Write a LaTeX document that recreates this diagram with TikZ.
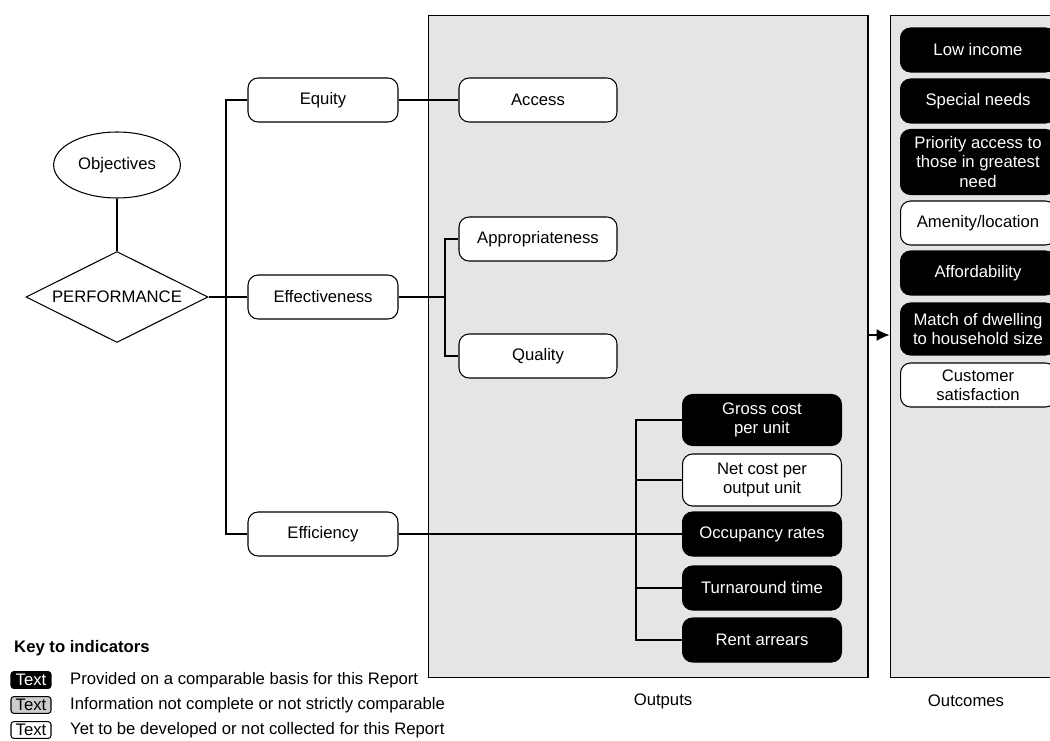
\documentclass[tikz,border=0pt]{standalone}
\usepackage{fontspec}
\setmainfont{Liberation Sans}
\usepackage{tikz}
\usetikzlibrary{arrows,arrows.meta,shapes,calc}
\tikzstyle{ind}=[draw, fill=white, rounded corners=2mm, minimum width=3cm,% indicator box
minimum height=0.88cm, align=center, line width=0.6pt, inner sep=1pt]
\tikzstyle{indblk}=[ind, fill=black, text=white]
\tikzstyle{outc}=[ind, minimum width=3.1cm]
\tikzstyle{outcblk}=[outc, fill=black, text=white]
\tikzstyle{panel}=[draw, fill=gray!20, line width=0.6pt]
\tikzstyle{link}=[line width=0.6pt]
\tikzstyle{keybox}=[draw, rounded corners=0.6mm, inner sep=1.5pt, minimum width=0.8cm, line width=0.6pt]

\begin{document}
\begin{tikzpicture}[x=0.02cm,y=-0.02cm,font=\fontsize{9.5}{11}\selectfont]
\useasboundingbox (0,0) rectangle (1050,740);
\clip (0,0) rectangle (1050,740);
% panels
\node[panel, minimum width=8.8cm, minimum height=13.26cm] (outputs) at (648,346.5) {};
\node[panel, minimum width=4.2cm, minimum height=13.26cm] (outcomes) at (995,346.5) {};
\node (outlab) at (663,701) {Outputs};
\node (outclab) at (966,701) {Outcomes};
% objectives
\node[ellipse, draw, fill=white, line width=0.6pt, minimum width=2.48cm, minimum height=1.32cm] (obj) at (117,165) {Objectives};
\node[diamond, draw, fill=white, aspect=2, inner sep=0pt, line width=0.6pt, minimum width=3.64cm, minimum height=1.82cm] (perf) at (117,297) {PERFORMANCE};
\node[ind] (equity) at (323,100) {Equity};
\node[ind] (effect) at (323,297) {Effectiveness};
\node[ind] (effic) at (323,534) {Efficiency};
% outputs
\node[ind, minimum width=3.16cm] (access) at (538,100) {Access};
\node[ind, minimum width=3.16cm] (approp) at (538,239) {Appropriateness};
\node[ind, minimum width=3.16cm] (quality) at (538,356) {Quality};
\node[indblk, minimum width=3.18cm, minimum height=1.02cm] (gross) at (762,420) {Gross cost\\per unit};
\node[ind, minimum width=3.18cm, minimum height=1.04cm] (net) at (762,480) {Net cost per\\output unit};
\node[indblk, minimum width=3.18cm] (occup) at (762,534) {Occupancy rates};
\node[indblk, minimum width=3.18cm] (turn) at (762,588) {Turnaround time};
\node[indblk, minimum width=3.18cm] (rent) at (762,640) {Rent arrears};
% outcomes
\node[outcblk] (lowinc) at (978,50) {Low income};
\node[outcblk] (special) at (978,101) {Special needs};
\node[outcblk, minimum height=1.3cm] (priority) at (978,162) {Priority access to\\those in greatest\\need};
\node[outc] (amenity) at (978,223) {Amenity/location};
\node[outcblk] (afford) at (978,273) {Affordability};
\node[outcblk, minimum height=1.04cm] (match) at (978,329) {Match of dwelling\\to household size};
\node[outc] (custom) at (978,385) {Customer\\satisfaction};
% links
\coordinate (trunk) at (226,297);
\coordinate (fork) at (445,297);
\coordinate (fork2) at (636,534);
\coordinate (arr) at (868,335);
\draw[line width=1.2pt] (obj) -- (perf);
\draw[line width=1.2pt] (perf.east) -- (trunk);
\draw[link] (trunk) -- (effect.west);
\draw[link] (equity.west) -| (trunk) |- (effic.west);
\draw[link] (equity.east) -- (access.west);
\draw[line width=1.2pt] (effect.east) -- (fork);
\draw[link] (approp.west) -| (fork) |- (quality.west);
\draw[link] (effic.east) -- (occup.west);
\draw[link] (gross.west) -| (fork2) |- (rent.west);
\draw[link] (net.west) -- (net.west -| fork2);
\draw[link] (turn.west) -- (turn.west -| fork2);
\draw[-{Latex[length=2.6mm,width=2.4mm]}, link] (arr) -- (outcomes.west |- arr);
% key
\node[anchor=west, font=\fontsize{9.5}{11}\selectfont\bfseries] (keyhead) at (8,648) {Key to indicators};
\node[keybox, fill=black, text=white] (k1) at (31,680) {Text};
\node[keybox, fill=gray!40] (k2) at (31,705) {Text};
\node[keybox] (k3) at (31,730) {Text};
\node[anchor=west] (d1) at (64,680) {Provided on a comparable basis for this Report};
\node[anchor=west] (d2) at (64,705) {Information not complete or not strictly comparable};
\node[anchor=west] (d3) at (64,730) {Yet to be developed or not collected for this Report};
\end{tikzpicture}
\end{document}
